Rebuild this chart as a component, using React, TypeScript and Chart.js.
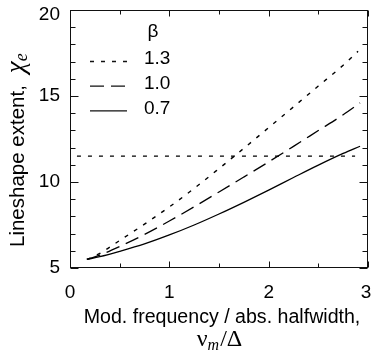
import React, { useEffect, useRef } from "react";
import { Chart, registerables } from "chart.js";

Chart.register(...registerables);

// ---- data ----
const betaLabels = ["1.3", "1.0", "0.7"];
const x13 = [0.17, 0.3, 0.5, 0.75, 1.0, 1.25, 1.5, 1.75, 2.0, 2.25, 2.5, 2.75, 2.9];
const y13 = [5.5, 5.85, 6.6, 7.55, 8.55, 9.63, 10.78, 11.96, 13.16, 14.37, 15.58, 16.79, 17.6];
const x10 = [0.17, 0.3, 0.5, 0.75, 1.0, 1.25, 1.5, 1.75, 2.0, 2.25, 2.5, 2.75, 2.92];
const y10 = [5.5, 5.75, 6.25, 6.95, 7.73, 8.56, 9.42, 10.29, 11.17, 12.07, 12.99, 13.91, 14.6];
const x07 = [0.17, 0.3, 0.5, 0.75, 1.0, 1.25, 1.5, 1.75, 2.0, 2.25, 2.5, 2.75, 2.92];
const y07 = [5.5, 5.66, 5.97, 6.4, 6.92, 7.5, 8.14, 8.82, 9.53, 10.26, 10.98, 11.66, 12.08];
const thresholdX = [0.07, 2.87];
const thresholdY = [11.5, 11.5];
const xTicks = [0, 1, 2, 3];
const yTicks = [5, 10, 15, 20];
const legendTitle = "β";
const xTitle = "Mod. frequency / abs. halfwidth,";
const yTitle = "Lineshape extent,";

const SANS = "'Liberation Sans', Arial, Helvetica, sans-serif";
const SERIF = "'Liberation Serif', 'Times New Roman', serif";

const pts = (xs: number[], ys: number[]) => xs.map((x, i) => ({ x, y: ys[i] }));

const decor = {
  id: "decor",
  afterDraw(chart: any) {
    const { ctx, chartArea: a, scales } = chart;
    const xs = scales.x;
    const ys = scales.y;
    ctx.save();
    ctx.strokeStyle = "#111";
    ctx.lineWidth = 1;
    ctx.setLineDash([]);
    const L = Math.round(a.left) + 0.5;
    const R = Math.round(a.right) - 0.5;
    const T = Math.round(a.top) + 0.5;
    const B = Math.round(a.bottom) - 0.5;
    ctx.strokeRect(L, T, R - L, B - T);
    ctx.beginPath();
    for (let v = ys.min; v <= ys.max + 1e-9; v += 1) {
      const p = Math.round(ys.getPixelForValue(v)) + 0.5;
      const len = Math.abs(v % 5) < 1e-9 ? 8 : 5;
      ctx.moveTo(L, p); ctx.lineTo(L + len, p);
      ctx.moveTo(R, p); ctx.lineTo(R - len, p);
    }
    for (let v = xs.min; v <= xs.max + 1e-9; v += 0.5) {
      const p = Math.round(xs.getPixelForValue(v)) + 0.5;
      const len = Math.abs(v % 1) < 1e-9 ? 6 : 4;
      ctx.moveTo(p, B); ctx.lineTo(p, B - len);
      ctx.moveTo(p, T); ctx.lineTo(p, T + len);
    }
    ctx.stroke();

    // tick labels
    ctx.fillStyle = "#000";
    ctx.font = `19px ${SANS}`;
    ctx.textBaseline = "middle";
    ctx.textAlign = "right";
    for (const v of yTicks) {
      const p = ys.getPixelForValue(v);
      ctx.fillText(String(v), a.left - 10, Math.max(p, a.top + 5));
    }
    ctx.textAlign = "center";
    for (const v of xTicks) {
      const p = xs.getPixelForValue(v);
      ctx.fillText(String(v), Math.min(p, a.right - 2), a.bottom + 25);
    }

    // legend
    ctx.textAlign = "center";
    ctx.fillText(legendTitle, a.left + 83, a.top + 22);
    ctx.textAlign = "left";
    const ds = chart.data.datasets;
    for (let i = 0; i < 3; i++) {
      const ty = a.top + 49 + i * 24.7;
      ctx.beginPath();
      ctx.lineWidth = ds[i].borderWidth;
      ctx.setLineDash(ds[i].borderDash || []);
      ctx.moveTo(a.left + 20, ty + 2.5);
      ctx.lineTo(a.left + 57, ty + 2.5);
      ctx.stroke();
      ctx.fillText(ds[i].label, a.left + 74, ty);
    }
    ctx.setLineDash([]);

    // x title
    const cx = (a.left + a.right) / 2;
    ctx.textBaseline = "alphabetic";
    ctx.textAlign = "center";
    ctx.font = `19.6px ${SANS}`;
    ctx.fillText(xTitle, cx + 3, 323);
    ctx.textAlign = "left";
    const f1 = `24px ${SERIF}`;
    const f2 = `italic 16px ${SERIF}`;
    const f3 = `24px ${SERIF}`;
    ctx.font = f1; const wn = ctx.measureText("ν").width;
    ctx.font = f2; const wm = ctx.measureText("m").width;
    ctx.font = f3; const ws = ctx.measureText("/Δ").width;
    let sx = cx - (wn + wm + ws) / 2;
    const by = 346;
    ctx.font = f1; ctx.fillText("ν", sx, by); sx += wn;
    ctx.font = f2; ctx.fillText("m", sx, by + 4); sx += wm + 1;
    ctx.font = f3; ctx.fillText("/Δ", sx, by);

    // y title
    ctx.save();
    ctx.translate(24, 247);
    ctx.rotate(-Math.PI / 2);
    ctx.font = `20.5px ${SANS}`;
    ctx.fillText(yTitle, 0, 0);
    let tx = ctx.measureText(yTitle).width + 12;
    ctx.font = `italic 27px ${SERIF}`;
    ctx.fillText("χ", tx, 0);
    tx += ctx.measureText("χ").width;
    ctx.font = `italic 18px ${SERIF}`;
    ctx.fillText("e", tx, 3);
    ctx.restore();

    ctx.restore();
  },
};

export default function App() {
  const ref = useRef<HTMLCanvasElement>(null);
  useEffect(() => {
    if (!ref.current) return;
    const common = {
      borderColor: "#000",
      backgroundColor: "#000",
      pointRadius: 0,
      fill: false,
      cubicInterpolationMode: "monotone" as const,
    };
    const chart = new Chart(ref.current, {
      type: "line",
      data: {
        datasets: [
          { ...common, label: betaLabels[0], data: pts(x13, y13), borderWidth: 1.4, borderDash: [4, 7] },
          { ...common, label: betaLabels[1], data: pts(x10, y10), borderWidth: 1.3, borderDash: [14, 7] },
          { ...common, label: betaLabels[2], data: pts(x07, y07), borderWidth: 1.3, borderDash: [] },
          { ...common, label: "threshold", data: pts(thresholdX, thresholdY), borderWidth: 1.2, borderDash: [4, 7] },
        ],
      },
      options: {
        responsive: false,
        animation: false,
        devicePixelRatio: 1,
        layout: { padding: { top: 10, right: 5, left: 0, bottom: 0 } },
        plugins: { legend: { display: false }, tooltip: { enabled: false } },
        scales: {
          x: {
            type: "linear",
            min: 0,
            max: 3,
            grid: { display: false, drawTicks: false },
            border: { display: false },
            ticks: { display: false },
            afterBuildTicks: (s: any) => { s.ticks = xTicks.map((v) => ({ value: v })); },
            afterFit: (s: any) => { s.height = 88; },
          },
          y: {
            type: "linear",
            min: 5,
            max: 20,
            grid: { display: false, drawTicks: false },
            border: { display: false },
            ticks: { display: false },
            afterBuildTicks: (s: any) => { s.ticks = yTicks.map((v) => ({ value: v })); },
            afterFit: (s: any) => { s.width = 70; },
          },
        },
      },
      plugins: [decor],
    });
    return () => chart.destroy();
  }, []);
  return (
    <div style={{ position: "fixed", left: 0, top: 0, width: 373, height: 356, background: "#fff" }}>
      <canvas ref={ref} width={373} height={356} style={{ width: 373, height: 356 }} />
    </div>
  );
}
